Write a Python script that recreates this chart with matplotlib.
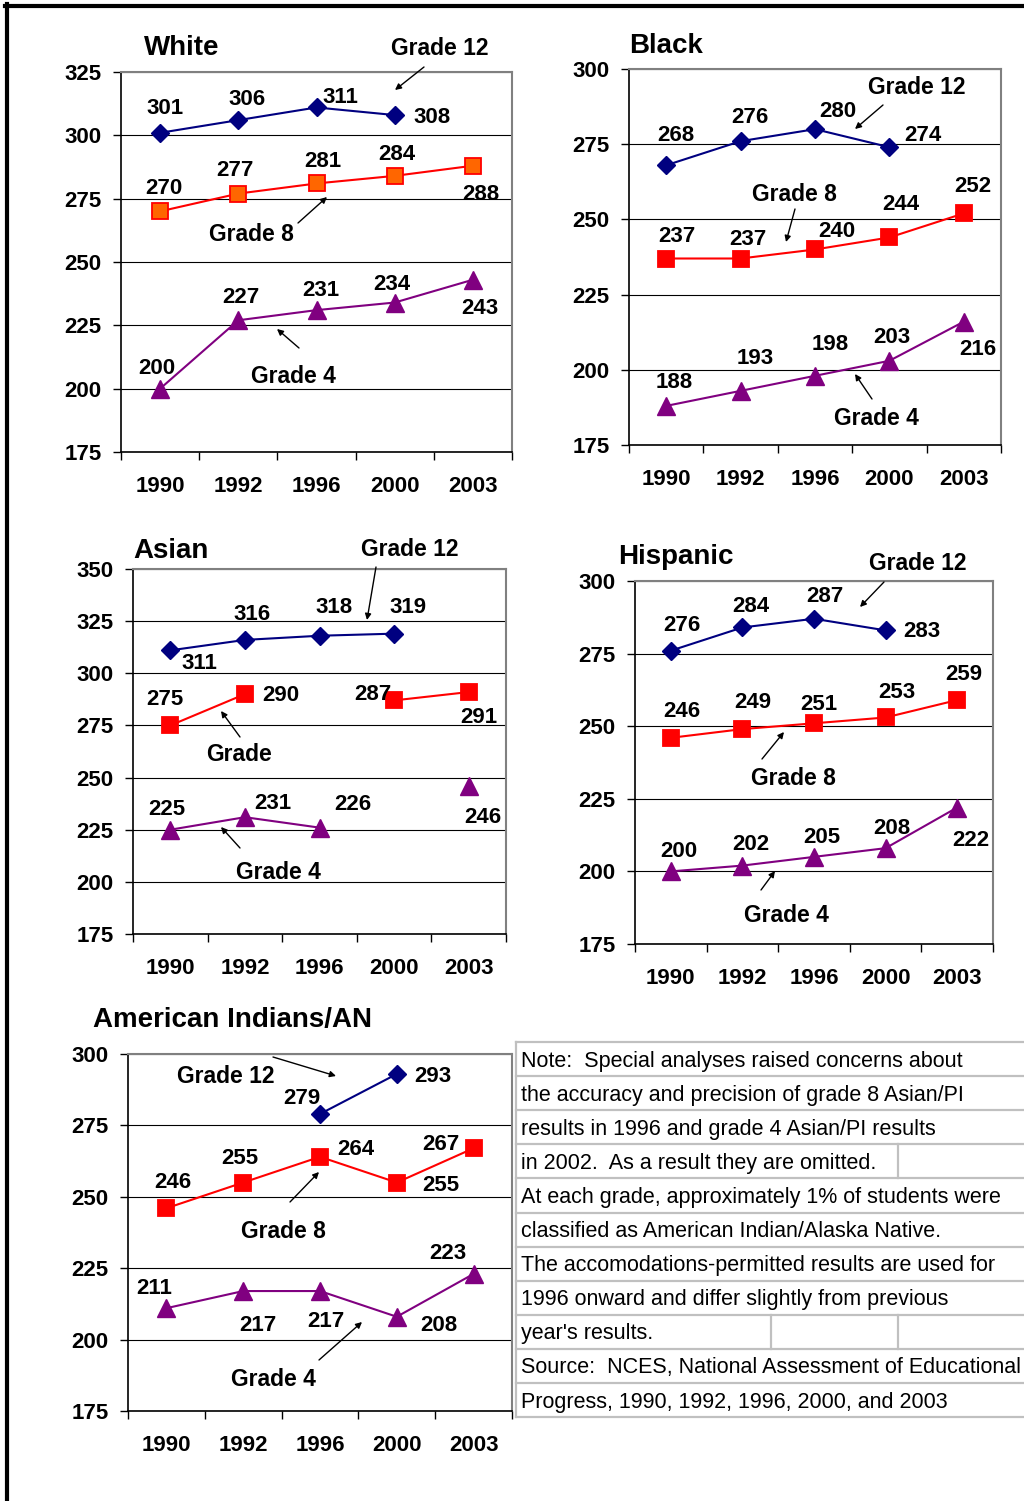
import numpy as np
import matplotlib.pyplot as plt
from matplotlib.patches import FancyArrowPatch
from matplotlib.lines import Line2D

plt.rcParams['font.family'] = ['Liberation Sans', 'DejaVu Sans']

nan = np.nan
W, H = 1024, 1501

# NAEP math scale scores by race/ethnicity
years = ['1990', '1992', '1996', '2000', '2003']

white_g12 = [301, 306, 311, 308, nan]
white_g8 = [270, 277, 281, 284, 288]
white_g4 = [200, 227, 231, 234, 243]

black_g12 = [268, 276, 280, 274, nan]
black_g8 = [237, 237, 240, 244, 252]
black_g4 = [188, 193, 198, 203, 216]

asian_g12 = [311, 316, 318, 319, nan]
asian_g8 = [275, 290, nan, 287, 291]
asian_g4 = [225, 231, 226, nan, 246]

hisp_g12 = [276, 284, 287, 283, nan]
hisp_g8 = [246, 249, 251, 253, 259]
hisp_g4 = [200, 202, 205, 208, 222]

aian_g12 = [nan, nan, 279, 293, nan]
aian_g8 = [246, 255, 264, 255, 267]
aian_g4 = [211, 217, 217, 208, 223]

note_lines = [
    "Note:  Special analyses raised concerns about",
    "the accuracy and precision of grade 8 Asian/PI",
    "results in 1996 and grade 4 Asian/PI results",
    "in 2002.  As a result they are omitted.",
    "At each grade, approximately 1% of students were",
    "classified as American Indian/Alaska Native.",
    "The accomodations-permitted results are used for",
    "1996 onward and differ slightly from previous",
    "year's results.",
    "Source:  NCES, National Assessment of Educational",
    "Progress, 1990, 1992, 1996, 2000, and 2003",
]

fig = plt.figure(figsize=(W / 100, H / 100), dpi=100)


def fxy(x, y):
    # pixel position (from top-left) -> figure fraction
    return x / W, 1 - y / H


def panel(rect, ylim, series, offsets, title, title_pos, glabels, arrows, g8_face='#FF0000'):
    l, t, r, b = rect
    ax = fig.add_axes([l / W, 1 - b / H, (r - l) / W, (b - t) / H])
    x = np.arange(len(years))
    g12, g8, g4 = series
    ax.plot(x, g12, color='#000080', lw=1.5, marker='D', ms=9.5,
            mfc='#000080', mec='#000080', zorder=3)
    ax.plot(x, g8, color='#FF0000', lw=1.5, marker='s', ms=11.5,
            mfc=g8_face, mec='#FF0000', mew=1.3, zorder=3)
    ax.plot(x, g4, color='#800080', lw=1.5, marker='^', ms=13.5,
            mfc='#800080', mec='#800080', zorder=3)

    for vals, offs in zip(series, offsets):
        for i, v in enumerate(vals):
            if np.isnan(v):
                continue
            dx, dy = offs[i]
            ax.annotate(f'{v:.0f}', (i, v), xytext=(dx, dy - 8),
                        textcoords='offset pixels', ha='center', va='baseline',
                        fontsize=16, fontweight='bold', annotation_clip=False)

    ax.set_xlim(-0.5, 4.5)
    ax.set_ylim(*ylim)
    ax.set_yticks(np.arange(ylim[0], ylim[1] + 1, 25))
    ax.set_xticks(x)
    ax.set_xticklabels(years)
    ax.set_xticks(np.arange(-0.5, 5, 1), minor=True)
    ax.tick_params(axis='x', which='major', length=0, pad=17, labelsize=16)
    ax.tick_params(axis='x', which='minor', length=6, width=1, direction='out')
    ax.tick_params(axis='y', length=6, width=1, pad=8, labelsize=16)
    for lab in ax.get_xticklabels() + ax.get_yticklabels():
        lab.set_fontweight('bold')
    ax.yaxis.grid(True, color='black', lw=0.8)
    ax.set_axisbelow(True)
    for s in ['left', 'bottom']:
        ax.spines[s].set_color('black')
        ax.spines[s].set_linewidth(1.2)
    for s in ['top', 'right']:
        ax.spines[s].set_color('#808080')
        ax.spines[s].set_linewidth(1.5)

    tx, ty = title_pos
    fig.text(*fxy(tx, ty + 10), title, ha='left', va='baseline',
             fontsize=20, fontweight='bold')
    for s, cx, cy in glabels:
        fig.text(*fxy(cx, cy + 8), s, ha='center', va='baseline',
                 fontsize=16.5, fontweight='bold')
    for a, bpt in arrows:
        fig.add_artist(FancyArrowPatch(fxy(*a), fxy(*bpt), transform=fig.transFigure,
                                       arrowstyle='-|>', mutation_scale=9, lw=1,
                                       color='black', shrinkA=0, shrinkB=0))
    return ax


# White
panel((121, 72, 512, 452), (175, 325), (white_g12, white_g8, white_g4),
      ([(5, 27), (9, 23), (24, 12), (37, 0), None],
       [(4, 25), (-3, 26), (6, 24), (2, 24), (8, -26)],
       [(-3, 23), (3, 25), (4, 22), (-3, 21), (7, -26)]),
      'White', (144, 45),
      [('Grade 12', 440, 47), ('Grade 8', 251, 233), ('Grade 4', 293, 375)],
      [((424, 67), (395, 90)), ((298, 223), (327, 197)), ((299, 348), (277, 329))],
      g8_face='#FF6600')

# Black
panel((629, 69, 1001, 445), (175, 300), (black_g12, black_g8, black_g4),
      ([(10, 32), (9, 26), (23, 20), (33, 14), None],
       [(11, 25), (7, 22), (22, 20), (11, 35), (9, 29)],
       [(8, 26), (15, 35), (15, 34), (2, 26), (14, -25)]),
      'Black', (629, 43),
      [('Grade 12', 917, 86), ('Grade 8', 794, 193), ('Grade 4', 876, 417)],
      [((883, 105), (855, 129)), ((795, 209), (786, 242)), ((872, 399), (855, 374))])

# Asian
panel((133, 569, 506, 934), (175, 350), (asian_g12, asian_g8, asian_g4),
      ([(29, -11), (7, 28), (14, 31), (14, 29), None],
       [(-5, 28), (36, 1), None, (-21, 8), (10, -23)],
       [(-3, 23), (28, 16), (33, 26), None, (14, -29)]),
      'Asian', (133, 548),
      [('Grade 12', 410, 548), ('Grade', 239, 753), ('Grade 4', 278, 871)],
      [((376, 567), (367, 620)), ((240, 737), (221, 711)), ((240, 848), (221, 827))])

# Hispanic
panel((635, 581, 993, 944), (175, 300), (hisp_g12, hisp_g8, hisp_g4),
      ([(11, 28), (8, 23), (11, 25), (36, 1), None],
       [(11, 29), (10, 29), (5, 21), (11, 27), (7, 28)],
       [(8, 22), (8, 24), (8, 22), (6, 22), (14, -30)]),
      'Hispanic', (618, 554),
      [('Grade 12', 918, 562), ('Grade 8', 793, 777), ('Grade 4', 786, 914)],
      [((884, 582), (860, 607)), ((762, 759), (784, 732)), ((761, 890), (775, 871))])

# American Indian / Alaska Native
panel((128, 1054, 512, 1411), (175, 300), (aian_g12, aian_g8, aian_g4),
      ([None, None, (-18, 18), (36, 0), None],
       [(6, 28), (-3, 27), (36, 10), (44, 0), (-33, 6)],
       [(-12, 22), (15, -32), (6, -28), (42, -6), (-26, 23)]),
      'American Indians/AN', (93, 1017),
      [('Grade 12', 226, 1075), ('Grade 8', 283, 1230), ('Grade 4', 273, 1378)],
      [((273, 1057), (336, 1076)), ((290, 1202), (319, 1172)), ((319, 1360), (362, 1322))])

# notes table
tl, tt, rh = 516, 1042, 34.1
grey = '#C0C0C0'
for k in range(len(note_lines) + 1):
    y = tt + k * rh
    fig.add_artist(Line2D([fxy(tl, y)[0], 1], [fxy(tl, y)[1]] * 2,
                          transform=fig.transFigure, color=grey, lw=1.6))
fig.add_artist(Line2D([fxy(tl, 0)[0]] * 2, [fxy(0, tt)[1], fxy(0, tt + 11 * rh)[1]],
                      transform=fig.transFigure, color=grey, lw=1.6))
for row, xs in [(3, [898]), (8, [771, 898])]:
    for xv in xs:
        fig.add_artist(Line2D([xv / W] * 2,
                              [fxy(0, tt + row * rh)[1], fxy(0, tt + (row + 1) * rh)[1]],
                              transform=fig.transFigure, color=grey, lw=1.6))
for k, line in enumerate(note_lines):
    cy = tt + (k + 0.5) * rh
    fig.text(*fxy(521, cy + 7.5), line, ha='left', va='baseline', fontsize=15.5)

# page border (top and left)
fig.add_artist(Line2D([5 / W, 1], [fxy(0, 5.5)[1]] * 2, transform=fig.transFigure,
                      color='black', lw=3))
fig.add_artist(Line2D([7 / W] * 2, [fxy(0, 4)[1], 0], transform=fig.transFigure,
                      color='black', lw=3))

fig.savefig('out.png', dpi=100, facecolor='white')
